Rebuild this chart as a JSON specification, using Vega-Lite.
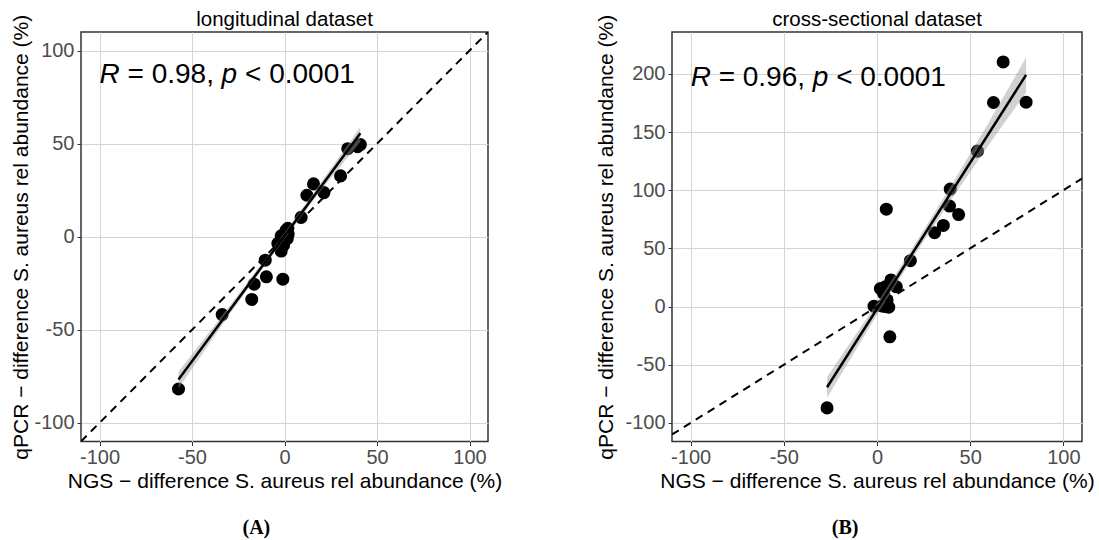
{
  "$schema": "https://vega.github.io/schema/vega-lite/v6.json",
  "padding": {"left": 10, "top": 9, "right": 5, "bottom": 0},
  "background": "white",
  "config": {
    "view": {"stroke": "#333333", "strokeWidth": 1.5},
    "axis": {
      "grid": true, "gridColor": "#d4d4d4", "gridWidth": 1,
      "domain": false, "tickColor": "#333333", "tickSize": 4, "tickWidth": 1,
      "labelFont": "Liberation Sans", "labelFontSize": 20, "labelColor": "#4d4d4d",
      "labelOverlap": false, "labelFlush": false, "labelBound": false,
      "titleFont": "Liberation Sans", "titleFontSize": 21, "titleFontWeight": "normal", "titleColor": "#000000",
      "labelExpr": "replace(datum.label, '\u2212', '-')"
    },
    "axisX": {"labelPadding": 2, "titlePadding": 3},
    "axisY": {"labelPadding": 3, "titlePadding": 2},
    "title": {"font": "Liberation Sans", "fontSize": 20.5, "fontWeight": "normal", "color": "#000000", "anchor": "middle"}
  },
  "spacing": 92,
  "hconcat": [
    {
      "title": {"text": "(A)", "orient": "bottom", "font": "Liberation Serif", "fontWeight": "bold", "fontSize": 20, "offset": 26},
      "vconcat": [
        {
          "title": {"text": "longitudinal dataset", "offset": 0, "dy": 16},
          "width": 407,
          "height": 409.5,
          "encoding": {
            "x": {"field": "x", "type": "quantitative",
                  "scale": {"domain": [-110, 110], "nice": false, "zero": false},
                  "axis": {"values": [-100, -50, 0, 50, 100], "title": "NGS \u2212 difference S. aureus rel abundance (%)"}},
            "y": {"field": "y", "type": "quantitative",
                  "scale": {"domain": [-110, 110], "nice": false, "zero": false},
                  "axis": {"values": [-100, -50, 0, 50, 100], "title": "qPCR \u2212 difference S. aureus rel abundance (%)"}}
          },
          "layer": [
            {
              "data": {"values": [
                {"x": -57.3, "y": -81.8}, {"x": -33.7, "y": -41.8}, {"x": -17.7, "y": -33.7},
                {"x": -16.4, "y": -25.5}, {"x": -9.8, "y": -21.5}, {"x": -10.4, "y": -12.6},
                {"x": -0.9, "y": -22.8}, {"x": -1.8, "y": -7.7}, {"x": -3.6, "y": -3.6},
                {"x": -1.8, "y": 0.5}, {"x": 0.9, "y": 3.6}, {"x": 2.0, "y": 1.5},
                {"x": 1.5, "y": -1.0}, {"x": -0.5, "y": -4.5}, {"x": 1.8, "y": 4.5},
                {"x": 9.0, "y": 10.4}, {"x": 12.1, "y": 22.3}, {"x": 15.7, "y": 28.4},
                {"x": 21.3, "y": 23.7}, {"x": 30.3, "y": 32.7}, {"x": 34.2, "y": 47.3},
                {"x": 39.5, "y": 48.4}, {"x": 41.0, "y": 49.5}
              ]},
              "mark": {"type": "circle", "size": 170, "color": "#000000", "opacity": 1}
            },
            {
              "data": {"values": [
                {"x": -57.3, "y": -81.5, "y_hi": -72.5}, {"x": -30, "y": -42, "y_hi": -37.5},
                {"x": -10, "y": -14.5, "y_hi": -11.5}, {"x": 0, "y": -1.2, "y_hi": 2.2},
                {"x": 20, "y": 25.3, "y_hi": 29.5}, {"x": 41.0, "y": 51, "y_hi": 59}
              ]},
              "mark": {"type": "area", "color": "#999999", "opacity": 0.45},
              "encoding": {"y2": {"field": "y_hi"}}
            },
            {
              "data": {"values": [{"x": -57.3, "y": -76.7}, {"x": 41.0, "y": 55.6}]},
              "mark": {"type": "line", "color": "#000000", "strokeWidth": 2.5}
            },
            {
              "data": {"values": [{"x": -110, "y": -110}, {"x": 110, "y": 110}]},
              "mark": {"type": "line", "color": "#000000", "strokeWidth": 2, "strokeDash": [8, 6], "clip": true}
            },
            {
              "data": {"values": [{"x": -100, "y": 82.4, "r": "= 0.98,", "p": "< 0.0001"}]},
              "layer": [
                {"mark": {"type": "text", "align": "left", "baseline": "alphabetic", "font": "Liberation Sans", "fontSize": 28, "fontStyle": "italic", "color": "#000000"},
                 "encoding": {"text": {"value": "R"}}},
                {"mark": {"type": "text", "align": "left", "baseline": "alphabetic", "font": "Liberation Sans", "fontSize": 28, "dx": 28, "color": "#000000"},
                 "encoding": {"text": {"field": "r"}}},
                {"mark": {"type": "text", "align": "left", "baseline": "alphabetic", "font": "Liberation Sans", "fontSize": 28, "fontStyle": "italic", "dx": 122, "color": "#000000"},
                 "encoding": {"text": {"value": "p"}}},
                {"mark": {"type": "text", "align": "left", "baseline": "alphabetic", "font": "Liberation Sans", "fontSize": 28, "dx": 145.5, "color": "#000000"},
                 "encoding": {"text": {"field": "p"}}}
              ]
            }
          ]
        }
      ]
    },
    {
      "title": {"text": "(B)", "orient": "bottom", "font": "Liberation Serif", "fontWeight": "bold", "fontSize": 20, "offset": 26},
      "vconcat": [
        {
          "title": {"text": "cross-sectional dataset", "offset": 0, "dy": 16},
          "width": 410,
          "height": 409.5,
          "encoding": {
            "x": {"field": "x", "type": "quantitative",
                  "scale": {"domain": [-110, 110], "nice": false, "zero": false},
                  "axis": {"values": [-100, -50, 0, 50, 100], "title": "NGS \u2212 difference S. aureus rel abundance (%)"}},
            "y": {"field": "y", "type": "quantitative",
                  "scale": {"domain": [-116, 236], "nice": false, "zero": false},
                  "axis": {"values": [-100, -50, 0, 50, 100, 150, 200], "titlePadding": 8, "title": "qPCR \u2212 difference S. aureus rel abundance (%)"}}
          },
          "layer": [
            {
              "data": {"values": [
                {"x": -26.8, "y": -87.1}, {"x": -1.6, "y": 0.3}, {"x": 2.5, "y": 0.5},
                {"x": 4.5, "y": 0}, {"x": 6.3, "y": -0.5}, {"x": 5.4, "y": 5.7},
                {"x": 3.6, "y": 11}, {"x": 4.5, "y": 17}, {"x": 1.8, "y": 15.5},
                {"x": 7.5, "y": 22.9}, {"x": 10.4, "y": 17}, {"x": 6.9, "y": -26},
                {"x": 5.0, "y": 83.7}, {"x": 17.9, "y": 39.4}, {"x": 30.9, "y": 63.5},
                {"x": 35.6, "y": 69.7}, {"x": 38.9, "y": 86.4}, {"x": 39.3, "y": 101},
                {"x": 43.8, "y": 79.1}, {"x": 53.9, "y": 133.6}, {"x": 62.5, "y": 175.4},
                {"x": 67.7, "y": 210.3}, {"x": 80, "y": 175.7}
              ]},
              "mark": {"type": "circle", "size": 170, "color": "#000000", "opacity": 1}
            },
            {
              "data": {"values": [
                {"x": -26.8, "y": -78.5, "y_hi": -60.5}, {"x": 0, "y": -7, "y_hi": 3},
                {"x": 20, "y": 43.8, "y_hi": 52.8}, {"x": 40, "y": 92.5, "y_hi": 104.5},
                {"x": 60, "y": 139, "y_hi": 158.5}, {"x": 80, "y": 184, "y_hi": 214}
              ]},
              "mark": {"type": "area", "color": "#999999", "opacity": 0.45},
              "encoding": {"y2": {"field": "y_hi"}}
            },
            {
              "data": {"values": [{"x": -26.8, "y": -69.4}, {"x": 80, "y": 199.1}]},
              "mark": {"type": "line", "color": "#000000", "strokeWidth": 2.5}
            },
            {
              "data": {"values": [{"x": -110, "y": -110}, {"x": 110, "y": 110}]},
              "mark": {"type": "line", "color": "#000000", "strokeWidth": 2, "strokeDash": [8, 6], "clip": true}
            },
            {
              "data": {"values": [{"x": -100, "y": 190, "r": "= 0.96,", "p": "< 0.0001"}]},
              "layer": [
                {"mark": {"type": "text", "align": "left", "baseline": "alphabetic", "font": "Liberation Sans", "fontSize": 28, "fontStyle": "italic", "color": "#000000"},
                 "encoding": {"text": {"value": "R"}}},
                {"mark": {"type": "text", "align": "left", "baseline": "alphabetic", "font": "Liberation Sans", "fontSize": 28, "dx": 28, "color": "#000000"},
                 "encoding": {"text": {"field": "r"}}},
                {"mark": {"type": "text", "align": "left", "baseline": "alphabetic", "font": "Liberation Sans", "fontSize": 28, "fontStyle": "italic", "dx": 122, "color": "#000000"},
                 "encoding": {"text": {"value": "p"}}},
                {"mark": {"type": "text", "align": "left", "baseline": "alphabetic", "font": "Liberation Sans", "fontSize": 28, "dx": 145.5, "color": "#000000"},
                 "encoding": {"text": {"field": "p"}}}
              ]
            }
          ]
        }
      ]
    }
  ]
}
